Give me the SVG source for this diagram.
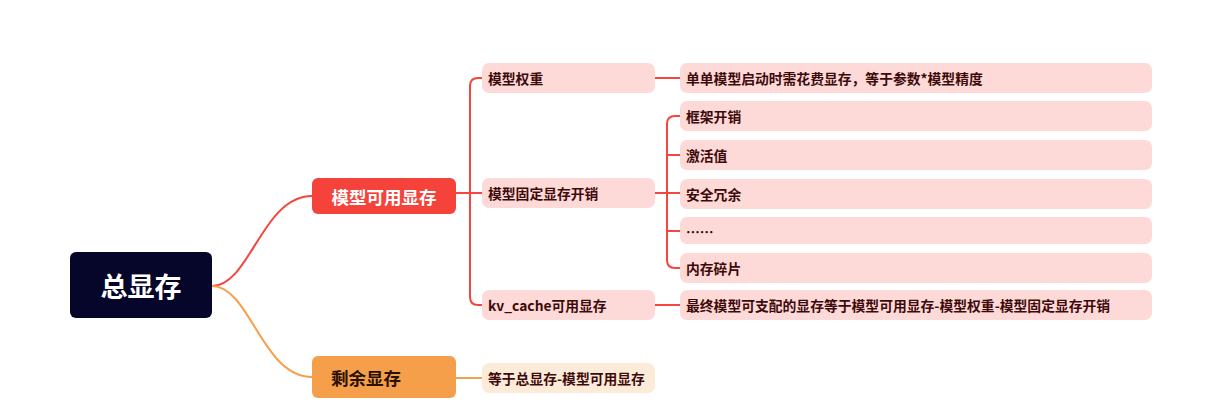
<svg xmlns="http://www.w3.org/2000/svg" width="1205" height="419" viewBox="0 0 1205 419">
<style>
text{font-family:"Noto Sans CJK SC","Noto Sans",sans-serif;font-weight:bold;dominant-baseline:central}
.l{fill:#fdd9d8}
.t{font-size:13.8px;fill:#3d0a0a}
.r{fill:none;stroke:#f4463f;stroke-width:2}
.o{fill:none;stroke:#f6a04c;stroke-width:2}
</style>
<rect width="1205" height="419" fill="#fff"/>
<g id="connectors">
<path class="r" d="M212,286 C250,286 262,196 312,196"/>
<path class="o" d="M212,286 C250,286 262,377 312,377"/>
<path class="r" d="M456,193 H482 M478,78 Q470,78 470,86 V297 Q470,305 478,305 H482 M478,78 H482"/>
<path class="r" d="M655,78 H680 M655,305 H680 M655,193 H680 M675,116 Q667,116 667,124 V260 Q667,268 675,268 H680 M667,155 H680 M667,231 H680 M675,116 H680"/>
<path class="o" d="M456,378 H482"/>
</g>
<g id="root"><rect x="70" y="252" width="142" height="66" rx="6" fill="#06062a"/><text x="141" y="285" text-anchor="middle" font-size="27" fill="#fff">总显存</text></g>
<g id="n1"><rect x="312" y="178" width="144" height="36" rx="6" fill="#f5423b"/><text x="384" y="196" text-anchor="middle" font-size="17.5" fill="#fff">模型可用显存</text></g>
<g id="n2"><rect x="312" y="356" width="144" height="42" rx="6" fill="#f59f4b"/><text x="366" y="377" text-anchor="middle" font-size="17.5" fill="#2a1000">剩余显存</text></g>
<g id="n11"><rect class="l" x="482" y="63" width="173" height="30" rx="7"/><text class="t" x="488" y="78">模型权重</text></g>
<g id="n12"><rect class="l" x="482" y="178" width="173" height="30" rx="7"/><text class="t" x="488" y="193">模型固定显存开销</text></g>
<g id="n13"><rect class="l" x="482" y="290" width="173" height="30" rx="7"/><text class="t" x="488" y="305">kv_cache可用显存</text></g>
<g id="n21"><rect x="482" y="363" width="173" height="30" rx="7" fill="#fdebd9"/><text class="t" x="488" y="378" fill="#3d1a00">等于总显存-模型可用显存</text></g>
<g id="n111"><rect class="l" x="680" y="63" width="472" height="30" rx="7"/><text class="t" x="686" y="78">单单模型启动时需花费显存，等于参数*模型精度</text></g>
<g id="n121"><rect class="l" x="680" y="101" width="472" height="30" rx="7"/><text class="t" x="686" y="116">框架开销</text></g>
<g id="n122"><rect class="l" x="680" y="140" width="472" height="30" rx="7"/><text class="t" x="686" y="155">激活值</text></g>
<g id="n123"><rect class="l" x="680" y="179" width="472" height="30" rx="7"/><text class="t" x="686" y="194">安全冗余</text></g>
<g id="n124"><rect class="l" x="680" y="217" width="472" height="27" rx="7"/><text class="t" x="686" y="231">……</text></g>
<g id="n125"><rect class="l" x="680" y="253" width="472" height="30" rx="7"/><text class="t" x="686" y="268">内存碎片</text></g>
<g id="n131"><rect class="l" x="680" y="290" width="472" height="30" rx="7"/><text class="t" x="686" y="305">最终模型可支配的显存等于模型可用显存-模型权重-模型固定显存开销</text></g>
</svg>
